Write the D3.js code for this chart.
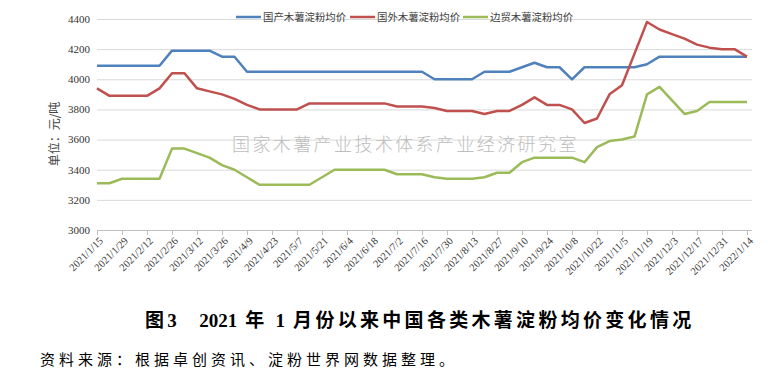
<!DOCTYPE html>
<html>
<head>
<meta charset="utf-8">
<script src="https://cdn.jsdelivr.net/npm/d3@7/dist/d3.min.js"></script>
<style>
  body { margin: 0; background: #fff; }
  svg { display: block; }
</style>
</head>
<body>
<svg id="chart" width="771" height="376"></svg>
<script>
// weekly dates (categories)
const dates = [
  "2021/1/15", "2021/1/22", "2021/1/29", "2021/2/5", "2021/2/12", "2021/2/19", "2021/2/26",
  "2021/3/5", "2021/3/12", "2021/3/19", "2021/3/26", "2021/4/2", "2021/4/9", "2021/4/16",
  "2021/4/23", "2021/4/30", "2021/5/7", "2021/5/14", "2021/5/21", "2021/5/28", "2021/6/4",
  "2021/6/11", "2021/6/18", "2021/6/25", "2021/7/2", "2021/7/9", "2021/7/16", "2021/7/23",
  "2021/7/30", "2021/8/6", "2021/8/13", "2021/8/20", "2021/8/27", "2021/9/3", "2021/9/10",
  "2021/9/17", "2021/9/24", "2021/10/1", "2021/10/8", "2021/10/15", "2021/10/22", "2021/10/29",
  "2021/11/5", "2021/11/12", "2021/11/19", "2021/11/26", "2021/12/3", "2021/12/10", "2021/12/17",
  "2021/12/24", "2021/12/31", "2022/1/7", "2022/1/14"
];

// 国产木薯淀粉均价
const domestic = [
  4090, 4090, 4090, 4090, 4090, 4090, 4190, 4190, 4190, 4190, 4150, 4150, 4050, 4050,
  4050, 4050, 4050, 4050, 4050, 4050, 4050, 4050, 4050, 4050, 4050, 4050, 4050, 4000,
  4000, 4000, 4000, 4050, 4050, 4050, 4080, 4110, 4080, 4080, 4000, 4080, 4080, 4080,
  4080, 4080, 4100, 4150, 4150, 4150, 4150, 4150, 4150, 4150, 4150
];
// 国外木薯淀粉均价
const foreign = [
  3940, 3890, 3890, 3890, 3890, 3940, 4040, 4040, 3940, 3920, 3900, 3870, 3830, 3800,
  3800, 3800, 3800, 3840, 3840, 3840, 3840, 3840, 3840, 3840, 3820, 3820, 3820, 3810,
  3790, 3790, 3790, 3770, 3790, 3790, 3830, 3880, 3830, 3830, 3800, 3710, 3740, 3900,
  3960, 4170, 4380, 4330, 4300, 4270, 4230, 4210, 4200, 4200, 4150
];
// 边贸木薯淀粉均价
const border = [
  3310, 3310, 3340, 3340, 3340, 3340, 3540, 3540, 3510, 3480, 3430, 3400, 3350, 3300,
  3300, 3300, 3300, 3300, 3350, 3400, 3400, 3400, 3400, 3400, 3370, 3370, 3370, 3350,
  3340, 3340, 3340, 3350, 3380, 3380, 3450, 3480, 3480, 3480, 3480, 3450, 3550, 3590,
  3600, 3620, 3900, 3950, 3860, 3770, 3790, 3850, 3850, 3850, 3850
];

const seriesNames = ["国产木薯淀粉均价", "国外木薯淀粉均价", "边贸木薯淀粉均价"];
const yTicks = [3000, 3200, 3400, 3600, 3800, 4000, 4200, 4400];
const titleText = "图3　2021 年 1 月份以来中国各类木薯淀粉均价变化情况";
const sourceText = "资料来源：根据卓创资讯、淀粉世界网数据整理。";

const colors = ["#4f81bd", "#c0504d", "#9bbb59"];
const serif = "'Liberation Serif', 'Noto Sans CJK SC', serif";
const cjk = "'Noto Sans CJK SC', sans-serif";

const svg = d3.select("#chart");
const plotL = 97, plotR = 747, gridR = 752, plotT = 19, plotB = 230;

const x = d3.scaleLinear().domain([0, dates.length - 1]).range([plotL, plotR]);
const y = d3.scaleLinear().domain([3000, 4400]).range([plotB, plotT]);

// grid lines
svg.append("g").selectAll("line").data(yTicks.slice(1)).join("line")
  .attr("x1", plotL).attr("x2", gridR)
  .attr("y1", d => y(d) + 0.5).attr("y2", d => y(d) + 0.5)
  .attr("stroke", "#d9d9d9").attr("stroke-width", 1);

// x axis line + ticks
const tickIdx = d3.range(0, dates.length, 2);
svg.append("line")
  .attr("x1", plotL).attr("x2", gridR)
  .attr("y1", plotB + 0.5).attr("y2", plotB + 0.5)
  .attr("stroke", "#bfbfbf");
svg.append("g").selectAll("line").data(tickIdx).join("line")
  .attr("x1", d => Math.round(x(d)) + 0.5).attr("x2", d => Math.round(x(d)) + 0.5)
  .attr("y1", plotB).attr("y2", plotB + 5)
  .attr("stroke", "#bfbfbf");

// y tick labels
svg.append("g").selectAll("text").data(yTicks).join("text")
  .attr("x", 90).attr("y", d => y(d))
  .attr("dy", "0.35em")
  .attr("text-anchor", "end")
  .attr("font-family", serif).attr("font-size", 11)
  .attr("fill", "#333")
  .text(d => d);

// x tick labels
svg.append("g").selectAll("text").data(tickIdx).join("text")
  .attr("transform", d => `translate(${x(d) + 4},${plotB + 9}) rotate(-45)`)
  .attr("text-anchor", "end")
  .attr("dy", "0.35em")
  .attr("font-family", serif).attr("font-size", 10.5)
  .attr("fill", "#333")
  .text(d => dates[d]);

// y axis title
svg.append("text")
  .attr("transform", "translate(55,134) rotate(-90)")
  .attr("text-anchor", "middle")
  .attr("dy", "0.35em")
  .attr("font-family", cjk).attr("font-size", 12)
  .attr("fill", "#444")
  .text("单位：元/吨");

// watermark
svg.append("text")
  .attr("x", 232).attr("y", 151)
  .attr("font-family", cjk).attr("font-size", 18)
  .attr("font-weight", 300)
  .attr("letter-spacing", 2.4)
  .attr("fill", "#bdbdbd")
  .text("国家木薯产业技术体系产业经济研究室");

// lines
const line = d3.line().x((d, i) => x(i)).y(d => y(d));
[domestic, foreign, border].forEach((s, k) => {
  svg.append("path")
    .datum(s)
    .attr("d", line)
    .attr("fill", "none")
    .attr("stroke", colors[k])
    .attr("stroke-width", 2.5)
    .attr("stroke-linejoin", "round");
});

// legend
const legendX = [236, 350, 463];
const lg = svg.append("g").selectAll("g").data(seriesNames).join("g")
  .attr("transform", (d, i) => `translate(${legendX[i]},17)`);
lg.append("line")
  .attr("x1", 0).attr("x2", 25).attr("y1", 0).attr("y2", 0)
  .attr("stroke", (d, i) => colors[i]).attr("stroke-width", 2.5);
lg.append("text")
  .attr("x", 27).attr("dy", "0.35em")
  .attr("font-family", cjk).attr("font-size", 10.4)
  .attr("fill", "#404040")
  .text(d => d);

// caption: digits tight, CJK spaced out
const title = svg.append("text")
  .attr("x", 145).attr("y", 327)
  .attr("font-family", serif).attr("font-size", 19)
  .attr("font-weight", "bold")
  .attr("fill", "#000")
  .attr("xml:space", "preserve");
title.selectAll("tspan").data(titleText.split(/(\d+)/).filter(s => s.length)).join("tspan")
  .attr("letter-spacing", d => /^\d+$/.test(d) ? 0 : 3.3)
  .text(d => d);

svg.append("text")
  .attr("x", 40).attr("y", 365)
  .attr("font-family", cjk).attr("font-size", 15)
  .attr("letter-spacing", 4)
  .attr("fill", "#000")
  .text(sourceText);
</script>
</body>
</html>
